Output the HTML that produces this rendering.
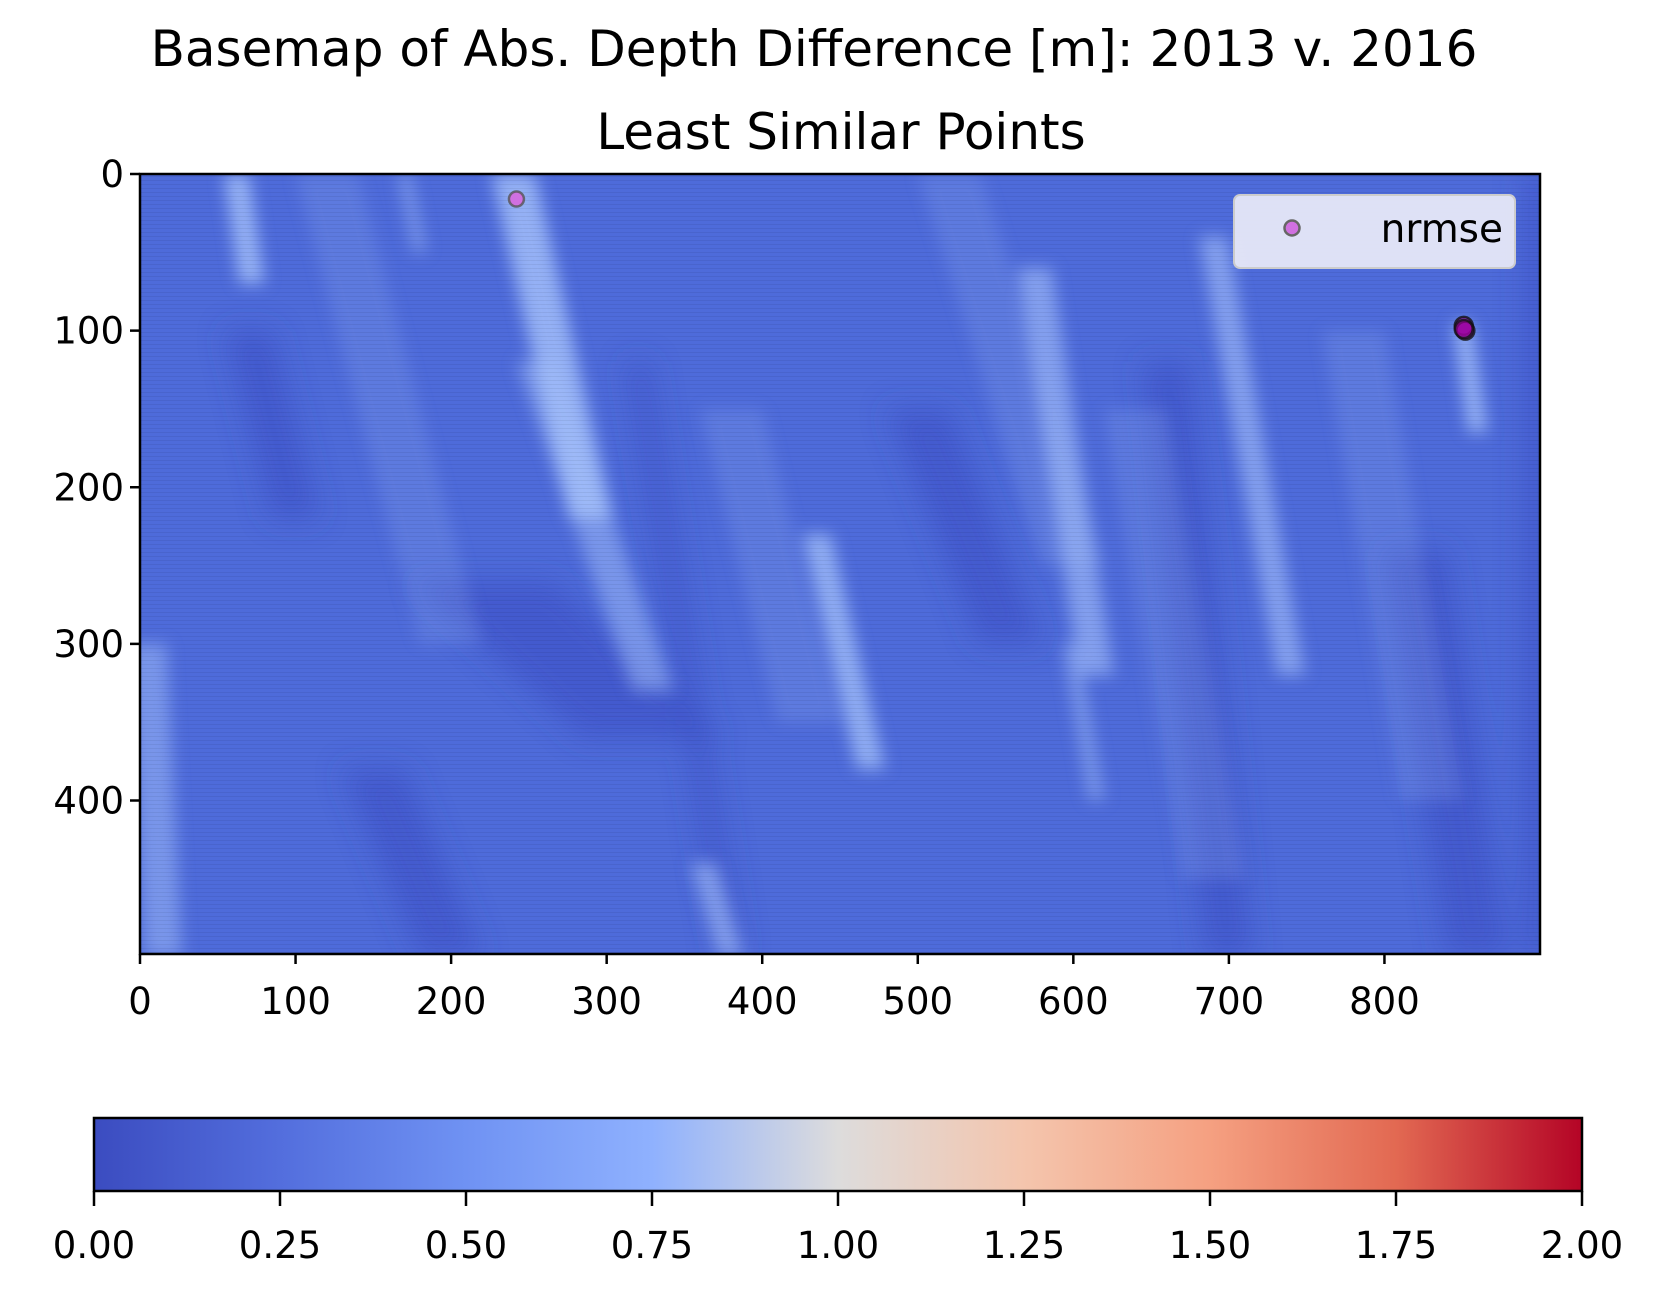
<!DOCTYPE html>
<html><head><meta charset="utf-8"><style>
html,body{margin:0;padding:0;background:#fff;}
svg text{font-family:"DejaVu Sans","Liberation Sans",sans-serif;fill:#000;}
</style></head><body>
<svg id="chart" width="1657" height="1290" viewBox="0 0 1657 1290" xmlns="http://www.w3.org/2000/svg">
<defs>
<filter id="blur" x="-20%" y="-20%" width="140%" height="140%"><feGaussianBlur stdDeviation="8"/></filter>
<filter id="blur2" x="-20%" y="-20%" width="140%" height="140%"><feGaussianBlur stdDeviation="14"/></filter>
<clipPath id="plotclip"><rect x="140" y="174" width="1400" height="780"/></clipPath>
<linearGradient id="cmap" x1="0" x2="1" y1="0" y2="0">
<stop offset="0" stop-color="#3b4cc0"/><stop offset="0.125" stop-color="#536edd"/>
<stop offset="0.25" stop-color="#6f92f3"/><stop offset="0.375" stop-color="#8fb1fe"/>
<stop offset="0.5" stop-color="#dddcdc"/><stop offset="0.625" stop-color="#f4c5ad"/>
<stop offset="0.75" stop-color="#f5a081"/><stop offset="0.875" stop-color="#e26952"/>
<stop offset="1" stop-color="#b40426"/></linearGradient>
<pattern id="scan" width="4" height="4" patternUnits="userSpaceOnUse"><rect width="4" height="1" fill="#000" opacity="0.06"/></pattern>
</defs>
<text x="814" y="66" font-size="50" text-anchor="middle">Basemap of Abs. Depth Difference [m]: 2013 v. 2016</text>
<text x="841" y="149" font-size="50" text-anchor="middle">Least Similar Points</text>
<g id="plot" clip-path="url(#plotclip)">
<rect x="140" y="174" width="1400" height="780" fill="#4e6bda"/>
<g id="dark" filter="url(#blur2)"></g>
<g id="light" filter="url(#blur)"></g>
<rect x="140" y="174" width="1400" height="780" fill="url(#scan)"/>
<g id="points"></g>
</g>
<rect x="140" y="174" width="1400" height="780" fill="none" stroke="#000" stroke-width="2.5"/>
<g id="axes"></g>
<g>
<rect x="1234" y="195" width="281" height="73" rx="6" fill="#eeeef8" fill-opacity="0.9" stroke="#ccc" stroke-width="2"/>
<circle cx="1292" cy="228" r="7.5" fill="#d070e0" stroke="#666" stroke-width="2.5"/>
<text x="1503" y="242" font-size="39" text-anchor="end">nrmse</text>
</g>
<rect x="94" y="1118" width="1488" height="73" fill="url(#cmap)" stroke="#000" stroke-width="2.5"/>
<g id="cbaxis"></g>
</svg>
<script>
const xTicks=[0,100,200,300,400,500,600,700,800];
const yTicks=[0,100,200,300,400];
const cbTicks=[0,0.25,0.5,0.75,1.0,1.25,1.5,1.75,2.0];
const ptX=[242,851,852,851];
const ptY=[16,97,100,99];
// bright stripes
const lightX0=[62,240,255,435,575,690,850,5,362,170,598,120,380,780,520,640];
const lightY0=[0,0,120,230,60,40,95,300,440,0,300,0,150,100,0,150];
const lightX1=[72,290,330,470,615,740,860,15,380,180,615,200,430,830,600,690];
const lightY1=[70,220,330,380,320,320,165,500,500,50,400,300,350,400,250,450];
const lightW=[16,28,26,18,22,18,12,24,16,8,10,40,40,40,40,40];
const lightO=[0.8,0.8,0.5,0.75,0.6,0.6,0.8,0.5,0.6,0.5,0.5,0.18,0.18,0.18,0.18,0.18];
const darkX0=[70,220,320,660,900,150,500,820];
const darkY0=[100,260,120,120,0,380,150,240];
const darkX1=[100,330,380,700,900,200,560,860];
const darkY1=[220,360,500,500,500,500,300,500];
const darkW=[30,90,14,30,20,40,40,40];
const NS='http://www.w3.org/2000/svg';
const L=140,T=174,W=1400,H=780,XMAX=900,YMAX=498;
function sx(v){return L+v/XMAX*W;}
function sy(v){return T+v/YMAX*H;}
function mk(tag,attrs,parent){const e=document.createElementNS(NS,tag);for(const k in attrs)e.setAttribute(k,attrs[k]);parent.appendChild(e);return e;}
function band(g,x0,y0,x1,y1,w,fill,op){
  const hw=w/XMAX*W/2;
  const p=[[sx(x0)-hw,sy(y0)],[sx(x0)+hw,sy(y0)],[sx(x1)+hw,sy(y1)],[sx(x1)-hw,sy(y1)]];
  return mk('polygon',{points:p.map(a=>a.join(',')).join(' '),fill:fill,opacity:op},g);
}
const dg=document.getElementById('dark'),lg=document.getElementById('light');
for(let i=0;i<darkX0.length;i++){
  const e=band(dg,darkX0[i],darkY0[i],darkX1[i],darkY1[i],darkW[i],'#3a50c6',0.6);
  
  
}
for(let i=0;i<lightX0.length;i++){
  const e=band(lg,lightX0[i],lightY0[i],lightX1[i],lightY1[i],lightW[i],'#a6c2fb',lightO[i]);
  
  
}
const pg=document.getElementById('points');
for(let i=0;i<ptX.length;i++){
  const first=i===0;
  const c=mk('circle',{cx:sx(ptX[i]),cy:sy(ptY[i]),r:first?7.5:9,fill:first?'#d070e0':'#a000a0','fill-opacity':first?1:0.6,stroke:first?'#555':'#111','stroke-width':2.5,'stroke-opacity':0.8},pg);
  
  
}
const ax=document.getElementById('axes');
xTicks.forEach(v=>{
  const l=mk('line',{x1:sx(v),x2:sx(v),y1:T+H,y2:T+H+10,stroke:'#000','stroke-width':2.5},ax);
  
  
  const t=mk('text',{x:sx(v),y:T+H+60,'font-size':37,'text-anchor':'middle'},ax);t.textContent=v;
  
  
});
yTicks.forEach(v=>{
  const l=mk('line',{x1:L-10,x2:L,y1:sy(v),y2:sy(v),stroke:'#000','stroke-width':2.5},ax);
  
  
  const t=mk('text',{x:L-16,y:sy(v)+13,'font-size':37,'text-anchor':'end'},ax);t.textContent=v;
  
  
});
const cb=document.getElementById('cbaxis');
cbTicks.forEach(v=>{
  const x=94+v/2*1488;
  const l=mk('line',{x1:x,x2:x,y1:1191,y2:1206,stroke:'#000','stroke-width':2.5},cb);
  
  
  const t=mk('text',{x:x,y:1258,'font-size':37,'text-anchor':'middle'},cb);t.textContent=v.toFixed(2);
  
  
});
</script>
</body></html>
